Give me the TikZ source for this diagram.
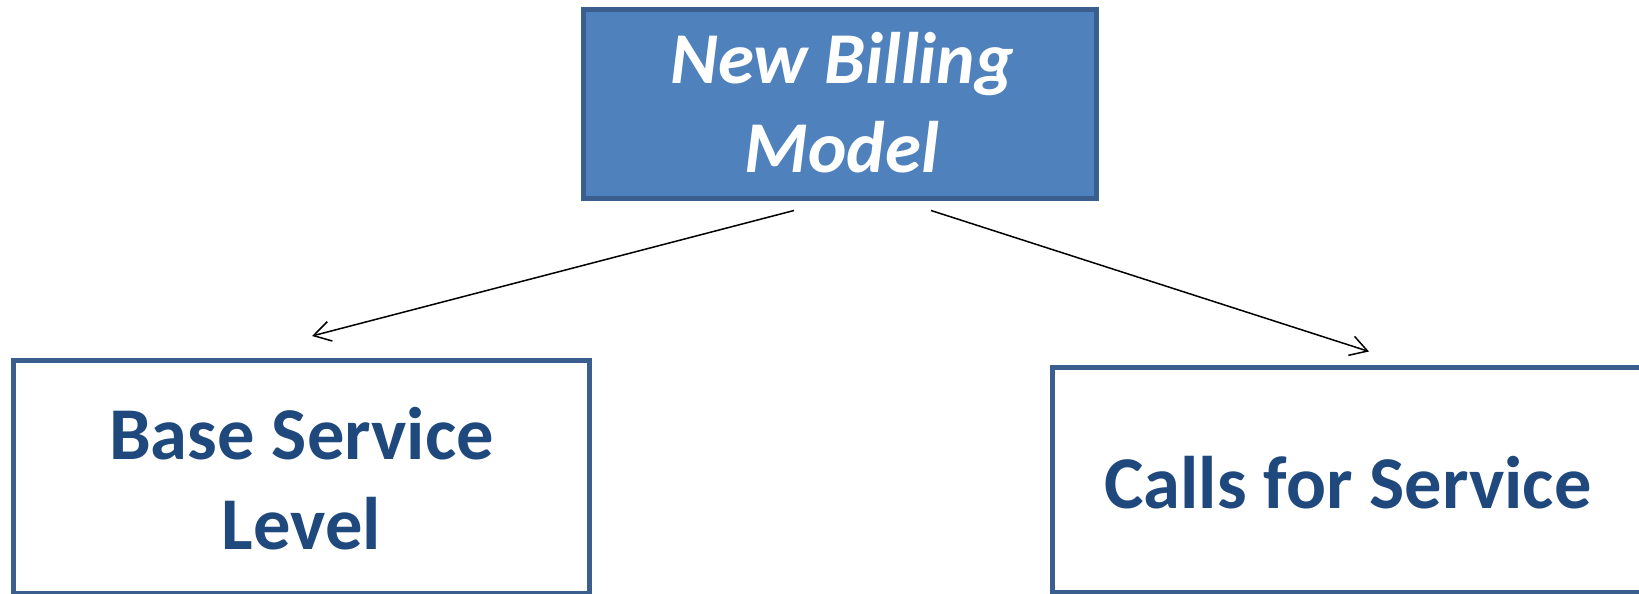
\documentclass[tikz,border=0pt]{standalone}
\usepackage{fontspec}
\setmainfont{Carlito}
\usetikzlibrary{arrows.meta}
\definecolor{boxfill}{HTML}{4F81BD}
\definecolor{boxline}{HTML}{3A5F8F}
\definecolor{textblue}{HTML}{1F497D}
\tikzset{
  box/.style={draw=boxline, line width=5pt, inner sep=0pt, outer sep=0pt},
  headbox/.style={box, fill=boxfill},
  headtext/.style={text=white, align=center, inner sep=0pt, anchor=base,
    font=\fontsize{73}{89}\selectfont\bfseries\itshape},
  subtext/.style={text=textblue, align=center, inner sep=0pt, anchor=base,
    font=\fontsize{74.5}{90}\selectfont\bfseries},
  link/.style={draw=black, line width=1.5pt,
    -{Straight Barb[length=17pt, width=20pt, line width=1.5pt]}}
}
\begin{document}
\begin{tikzpicture}[x=1pt, y=-1pt]
\useasboundingbox (0,0) rectangle (1639,594);
% boxes
\node[headbox, minimum width=513pt, minimum height=189pt] (model) at (840,104) {};
\node[box, minimum width=576pt, minimum height=233pt] (base) at (301.5,476.5) {};
\node[box, minimum width=591pt, minimum height=225pt] (calls) at (1348,480) {};
% labels (the base anchor sits on the last line)
\node[headtext] (modeltxt) at (842,172.5) {New Billing\\Model};
\node[subtext] (basetxt) at (301.5,549) {Base Service\\Level};
\node[subtext] (callstxt) at (1348,508) {Calls for Service};
% connectors
\draw[link] ([xshift=-46pt, yshift=-12pt]model.south) -- ([xshift=10.5pt, yshift=24pt]base.north);
\draw[link] ([xshift=91pt, yshift=-12pt]model.south) -- ([xshift=21pt, yshift=16pt]calls.north);
\end{tikzpicture}
\end{document}
